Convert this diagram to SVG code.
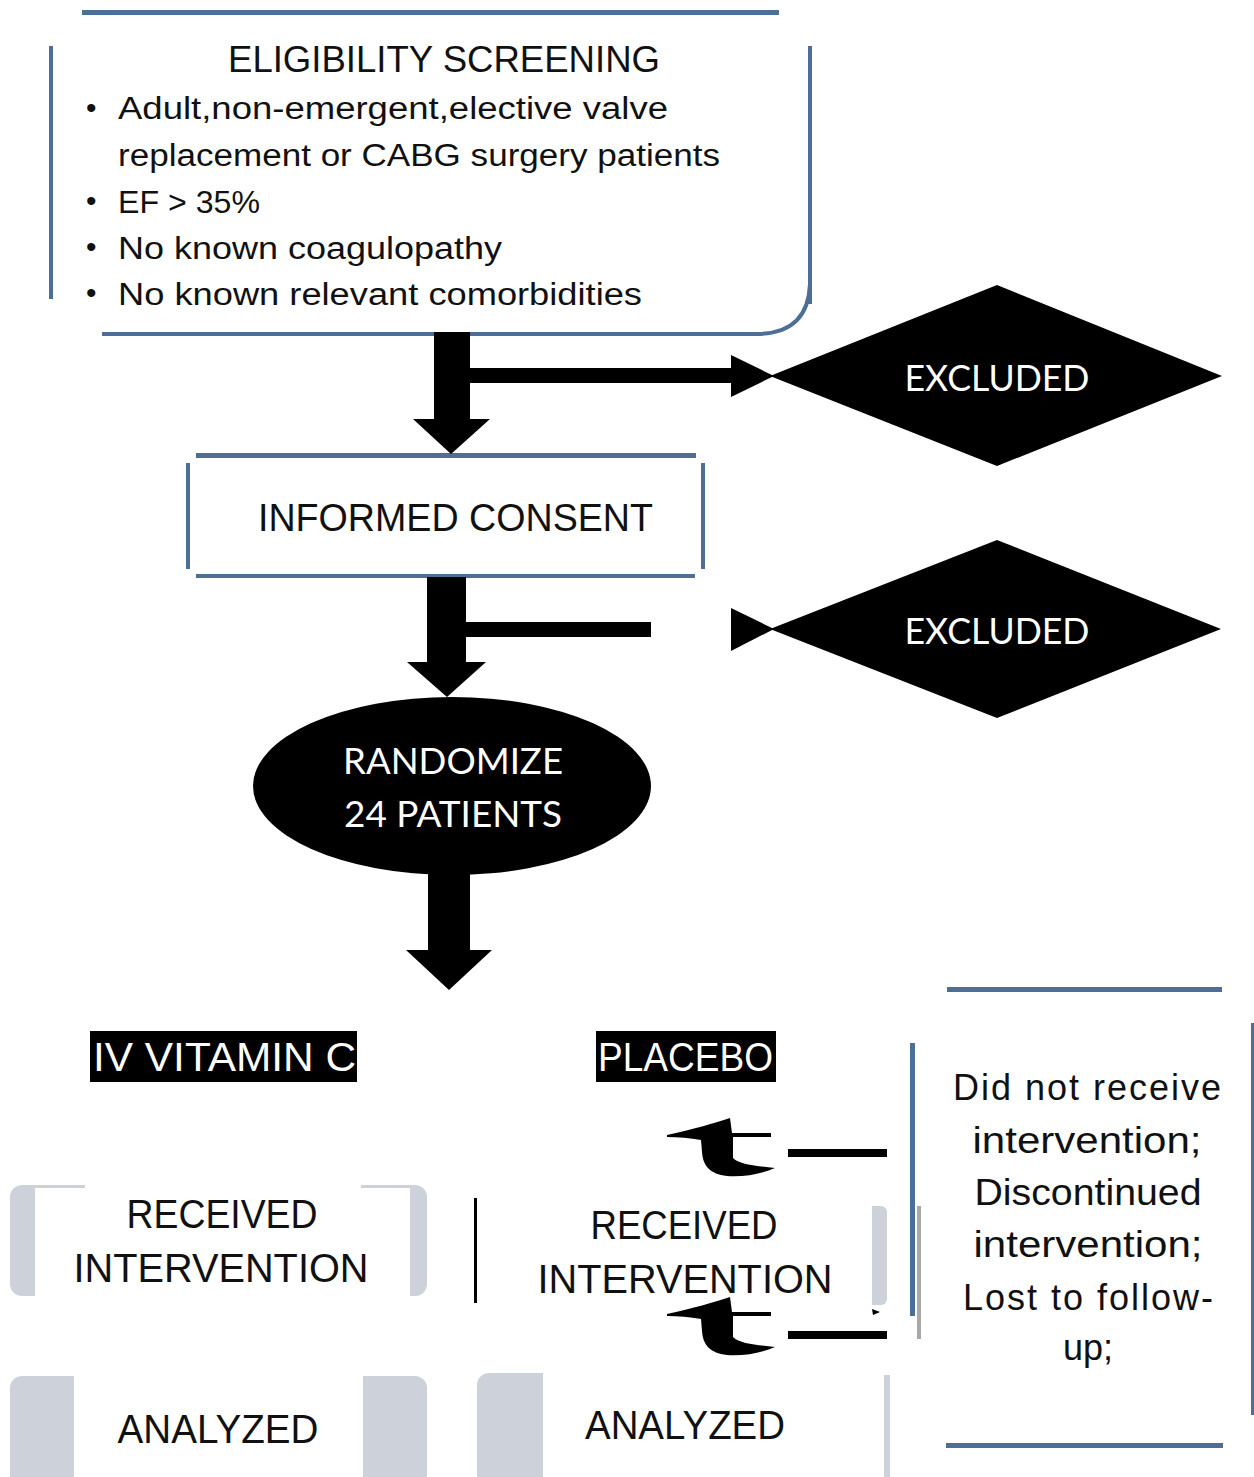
<svg xmlns="http://www.w3.org/2000/svg" width="1254" height="1477" viewBox="0 0 1254 1477">
<defs>
<style>
.bl{fill:#4d6e96}
.blk{fill:#000}
.gr{fill:#cdd1d9}
.wh{fill:#fff}
.t{font-family:"Liberation Sans",Arial,sans-serif;fill:#111}
.c{font-family:Lato,"Open Sans",sans-serif;fill:#fff}
.bul{font-family:"Liberation Sans",Arial,sans-serif;fill:#111;font-size:30px}
</style>
<path id="tshape" d="M667,1135 C695,1129 714,1123 730,1118 L732,1133 L771,1133 L771,1137 L733,1137 L733,1158 C740,1165 758,1166 775,1168 C761,1174 745,1177 727,1176 C710,1174 703,1166 702,1152 L701,1140 C690,1138 678,1137 667,1137 Z"/>
</defs>
<rect width="1254" height="1477" fill="#fff"/>

<g id="eligibility">
<rect class="bl" x="82" y="10" width="697" height="5"/>
<rect class="bl" x="49" y="46" width="4" height="253"/>
<rect class="bl" x="808" y="46" width="4" height="258"/>
<path d="M810,284 Q808,334 756,334" fill="none" stroke="#4d6e96" stroke-width="4"/>
<rect class="bl" x="102" y="332" width="658" height="4"/>
<text class="t" x="444" y="72" font-size="37" text-anchor="middle" textLength="432" lengthAdjust="spacingAndGlyphs">ELIGIBILITY SCREENING</text>
<text class="bul" x="86" y="118">•</text>
<text class="bul" x="86" y="211">•</text>
<text class="bul" x="86" y="257">•</text>
<text class="bul" x="86" y="303">•</text>
<text class="t" x="118" y="119" font-size="31" textLength="550" lengthAdjust="spacingAndGlyphs">Adult,non-emergent,elective valve</text>
<text class="t" x="118" y="166" font-size="31" textLength="602" lengthAdjust="spacingAndGlyphs">replacement or CABG surgery patients</text>
<text class="t" x="118" y="213" font-size="31" textLength="142" lengthAdjust="spacingAndGlyphs">EF &gt; 35%</text>
<text class="t" x="118" y="259" font-size="31" textLength="384" lengthAdjust="spacingAndGlyphs">No known coagulopathy</text>
<text class="t" x="118" y="305" font-size="31" textLength="524" lengthAdjust="spacingAndGlyphs">No known relevant comorbidities</text>
</g>

<g id="excluded1">
<polygon class="blk" points="770,376 997,285 1222,376 997,466"/>
<text class="c" x="997" y="391" font-size="37" text-anchor="middle" textLength="185" lengthAdjust="spacingAndGlyphs">EXCLUDED</text>
</g>

<g id="consent">
<rect class="bl" x="196" y="453" width="500" height="5"/>
<rect class="bl" x="186" y="463" width="4" height="106"/>
<rect class="bl" x="701" y="463" width="4" height="106"/>
<rect class="bl" x="196" y="574" width="499" height="4"/>
<text class="t" x="258" y="531" font-size="39" textLength="395" lengthAdjust="spacingAndGlyphs">INFORMED CONSENT</text>
</g>

<g id="excluded2">
<polygon class="blk" points="770,629 997,540 1221,629 997,718"/>
<text class="c" x="997" y="644" font-size="37" text-anchor="middle" textLength="185" lengthAdjust="spacingAndGlyphs">EXCLUDED</text>
</g>

<g id="randomize">
<ellipse class="blk" cx="452" cy="786" rx="199" ry="89"/>
<text class="c" x="453" y="774" font-size="37" text-anchor="middle" textLength="220" lengthAdjust="spacingAndGlyphs">RANDOMIZE</text>
<text class="c" x="453" y="827" font-size="37" text-anchor="middle" textLength="218" lengthAdjust="spacingAndGlyphs">24 PATIENTS</text>
</g>

<g id="connectors">
<rect class="blk" x="434" y="332" width="36" height="88"/>
<polygon class="blk" points="413,419 490,419 451,454"/>
<rect class="blk" x="470" y="368" width="261" height="15"/>
<polygon class="blk" points="731,355 774,376 731,397"/>
<rect class="blk" x="427" y="577" width="39" height="86"/>
<polygon class="blk" points="407,662 486,662 447,697"/>
<rect class="blk" x="465" y="622" width="186" height="15"/>
<polygon class="blk" points="731,608 774,629 731,651"/>
<rect class="blk" x="428" y="874" width="42" height="77"/>
<polygon class="blk" points="406,950 492,950 449,990"/>
<use href="#tshape"/>
<use href="#tshape" transform="translate(0,179)"/>
<rect class="blk" x="788" y="1149" width="99" height="8"/>
<rect class="blk" x="788" y="1331" width="99" height="8"/>
<polygon class="blk" points="872,1309 880,1312 873,1315"/>
</g>

<g id="vitc">
<rect class="blk" x="90" y="1031" width="267" height="51"/>
<text class="t" x="93" y="1071" font-size="41" style="fill:#fff" textLength="263" lengthAdjust="spacingAndGlyphs">IV VITAMIN C</text>
</g>

<g id="placebo">
<rect class="blk" x="596" y="1031" width="180" height="51"/>
<text class="t" x="598" y="1071" font-size="41" style="fill:#fff" textLength="175" lengthAdjust="spacingAndGlyphs">PLACEBO</text>
</g>

<g id="received-left">
<rect class="gr" x="10" y="1185" width="417" height="111" rx="12"/>
<rect class="wh" x="35" y="1188" width="375" height="112"/>
<rect class="wh" x="85" y="1183" width="276" height="6"/>
<text class="t" x="222" y="1228" font-size="41" text-anchor="middle" textLength="191" lengthAdjust="spacingAndGlyphs">RECEIVED</text>
<text class="t" x="221" y="1282" font-size="41" text-anchor="middle" textLength="295" lengthAdjust="spacingAndGlyphs">INTERVENTION</text>
</g>

<g id="received-right">
<rect class="blk" x="474" y="1198" width="3" height="105"/>
<rect class="gr" x="872" y="1206" width="15" height="99" rx="6"/>
<rect class="gr" x="872" y="1206" width="6" height="99"/>
<text class="t" x="684" y="1239" font-size="41" text-anchor="middle" textLength="187" lengthAdjust="spacingAndGlyphs">RECEIVED</text>
<text class="t" x="685" y="1293" font-size="41" text-anchor="middle" textLength="295" lengthAdjust="spacingAndGlyphs">INTERVENTION</text>
</g>

<g id="dropouts">
<rect class="bl" x="947" y="987" width="275" height="5"/>
<rect class="bl" x="910" y="1043" width="5" height="273"/>
<rect x="917" y="1206" width="4" height="133" fill="#a8a8a8"/>
<rect class="bl" x="1251" y="1023" width="3" height="392"/>
<rect class="bl" x="946" y="1443" width="277" height="5"/>
<text class="t" x="1087" y="1100" font-size="36" text-anchor="middle" textLength="268" lengthAdjust="spacing">Did not receive</text>
<text class="t" x="1087" y="1153" font-size="36" text-anchor="middle" textLength="229" lengthAdjust="spacingAndGlyphs">intervention;</text>
<text class="t" x="1088" y="1205" font-size="36" text-anchor="middle" textLength="227" lengthAdjust="spacingAndGlyphs">Discontinued</text>
<text class="t" x="1088" y="1257" font-size="36" text-anchor="middle" textLength="229" lengthAdjust="spacingAndGlyphs">intervention;</text>
<text class="t" x="1088" y="1310" font-size="36" text-anchor="middle" textLength="250" lengthAdjust="spacing">Lost to follow-</text>
<text class="t" x="1088" y="1360" font-size="36" text-anchor="middle">up;</text>
</g>

<g id="analyzed-left">
<rect class="gr" x="10" y="1376" width="417" height="120" rx="12"/>
<rect class="wh" x="74" y="1374" width="289" height="110"/>
<text class="t" x="218" y="1443" font-size="41" text-anchor="middle" textLength="201" lengthAdjust="spacingAndGlyphs">ANALYZED</text>
</g>

<g id="analyzed-right">
<rect class="gr" x="477" y="1373" width="80" height="120" rx="12"/>
<rect class="wh" x="543" y="1370" width="30" height="110"/>
<rect class="gr" x="884" y="1375" width="6" height="102"/>
<text class="t" x="685" y="1439" font-size="41" text-anchor="middle" textLength="200" lengthAdjust="spacingAndGlyphs">ANALYZED</text>
</g>
</svg>
